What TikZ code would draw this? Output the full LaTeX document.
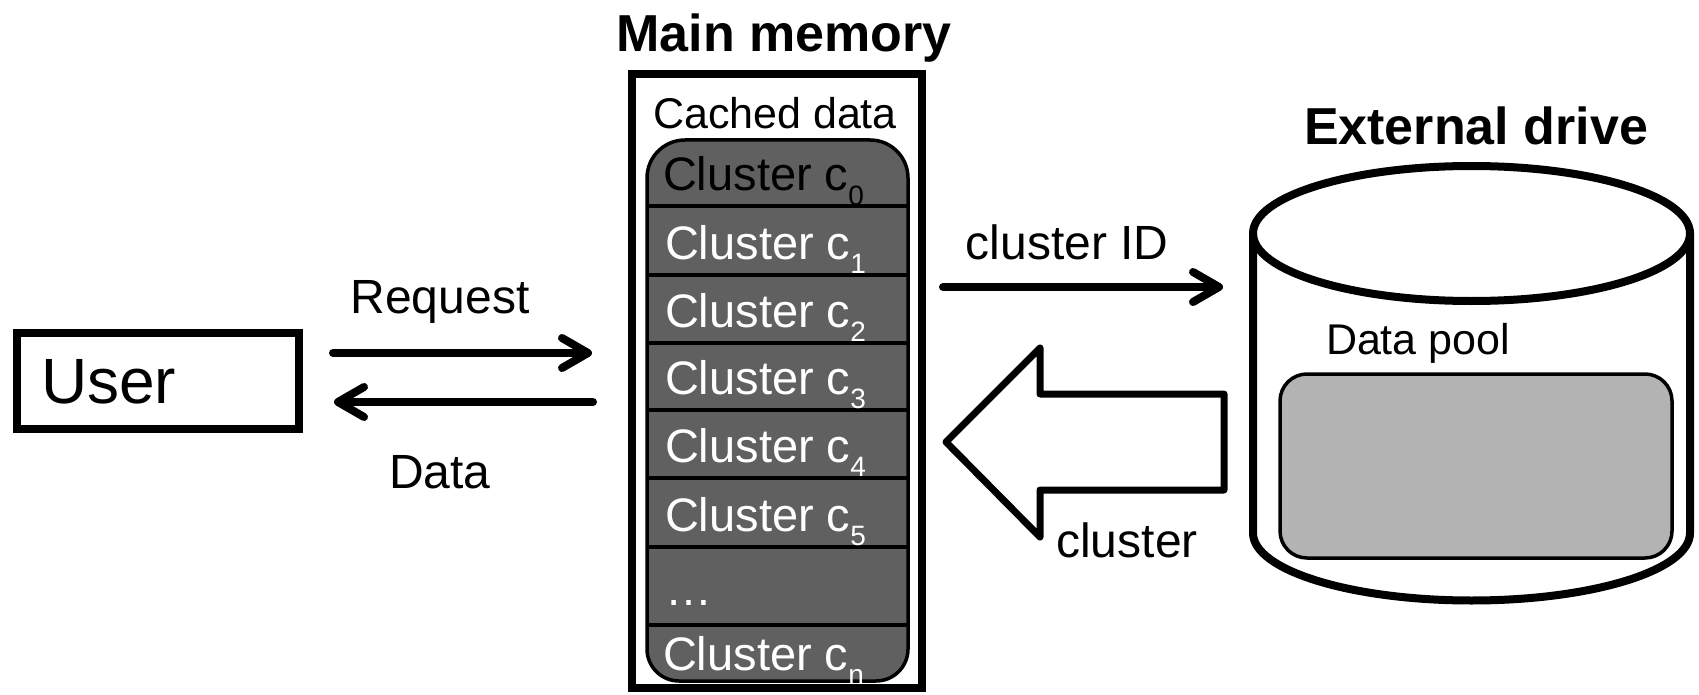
\documentclass[tikz,border=0pt]{standalone}
\usepackage{fontspec}
\setmainfont{Liberation Sans}
\usetikzlibrary{arrows.meta}
\definecolor{stackgray}{RGB}{96,96,96}
\definecolor{poolgray}{RGB}{179,179,179}
\newcommand\fs[1]{\fontsize{#1}{#1}\selectfont}
\newcommand\clab[1]{Cluster c\raisebox{-14pt}{\fs{28}#1}}
\begin{document}
\begin{tikzpicture}[x=1pt,y=-1pt,
  txt/.style={inner sep=0pt, outer sep=0pt},
  lab/.style={txt, anchor=base, font=\fs{48}},
  ttl/.style={txt, anchor=base, font=\fs{52}\bfseries},
  clu/.style={txt, anchor=base west, text=white, font=\fs{47}},
  arr/.style={line width=8pt, line cap=round, -{Straight Barb[length=26pt,width=30pt,round]}},
  boxline/.style={draw, line width=8pt, inner sep=0pt},
  divline/.style={line width=4pt},
  cylline/.style={line width=8pt}
]
\useasboundingbox (0,0) rectangle (1699,695);
% user
\node[boxline, minimum width=282pt, minimum height=96pt] (user) at (158,381) {};
\node[txt, anchor=base west, font=\fs{64}] (usertxt) at (41,403) {User};
% main memory
\node[boxline, minimum width=290pt, minimum height=614pt] (mem) at (777,381) {};
\node[ttl] (memttl) at (784,52) {Main memory};
\node[txt, anchor=base, font=\fs{43}] (cached) at (775,129) {Cached data};
% stack
\draw[line width=3.5pt, fill=stackgray] (647,400) [rounded corners=38pt] -- (647,140) -- (908,140) -- (908,400) [rounded corners=32pt] -- (908,681) -- (647,681) -- cycle;
\foreach \yy in {206,275,343,410,478,547,625}
  \draw[divline] (647,\yy) -- (908,\yy);
\node[clu, text=black] (c0) at (663,191) {\clab{0}};
\node[clu] (c1) at (665,259) {\clab{1}};
\node[clu] (c2) at (665,327) {\clab{2}};
\node[clu] (c3) at (665,394) {\clab{3}};
\node[clu] (c4) at (665,462) {\clab{4}};
\node[clu] (c5) at (665,531) {\clab{5}};
\node[clu] (cdots) at (665,605) {\dots};
\node[clu] (cn) at (663,670) {\clab{n}};
% external drive
\node[ttl] (extttl) at (1476,145) {External drive};
\draw[cylline] (1253,233.5) -- (1253,533) arc[start angle=180, end angle=0, x radius=218.5, y radius=67.5] -- (1690,233.5);
\draw[cylline] (1471.5,233.5) ellipse [x radius=218.5, y radius=67.5];
\node[draw, line width=3.5pt, fill=poolgray, rounded corners=27pt, minimum width=392pt, minimum height=184pt, inner sep=0pt] (pool) at (1476,466) {};
\node[txt, anchor=base west, font=\fs{43}] (pooltxt) at (1326,354) {Data pool};
% arrows
\coordinate (reqA) at (333,353);
\coordinate (reqB) at (592,353);
\coordinate (datA) at (593,402);
\coordinate (datB) at (334,402);
\coordinate (idA) at (943,287);
\coordinate (idB) at (1223,287);
\draw[arr] (reqA) -- (reqB);
\draw[arr] (datA) -- (datB);
\draw[arr] (idA) -- (idB);
\node[lab] (reqtxt) at (440,313) {Request};
\node[lab] (dattxt) at (440,488) {Data};
\node[lab] (idtxt) at (1067,259) {cluster ID};
% big arrow
\coordinate (bt) at (946,442);
\draw[line width=7pt, line join=round] (bt) -- (1040,348) -- (1040,394) -- (1224,394) -- (1224,490) -- (1040,490) -- (1040,537) -- cycle;
\node[lab] (clutxt) at (1127,557) {cluster};
\end{tikzpicture}
\end{document}
